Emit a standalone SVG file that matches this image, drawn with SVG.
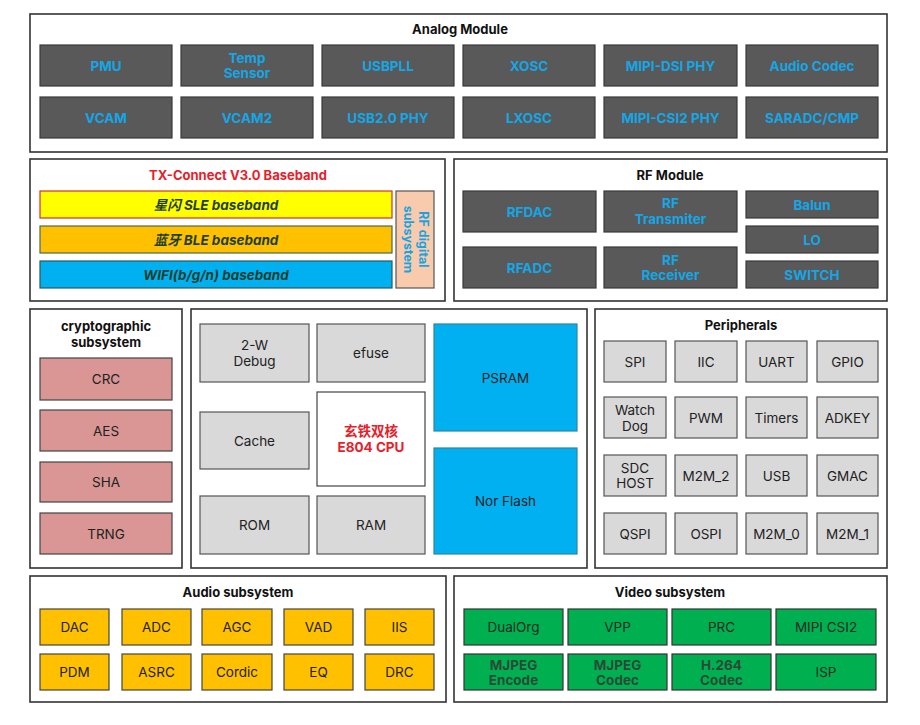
<svg xmlns="http://www.w3.org/2000/svg" width="920" height="725" viewBox="0 0 920 725">
<style>
text{font-family:Inter,"Liberation Sans","Noto Sans CJK SC",sans-serif;text-anchor:middle;dominant-baseline:central}
.outer{fill:#fff;stroke:#333;stroke-width:1.6}
.title{font-size:13px;font-weight:700;fill:#111}
.ana{fill:#595959;stroke:#3a3a3a;stroke-width:1.2}
.anat{font-size:13.5px;font-weight:700;fill:#14A6E6}
.gray{fill:#D9D9D9;stroke:#555;stroke-width:1.2}
.gt{font-size:13.5px;fill:#222}
.pink{fill:#D99694;stroke:#444;stroke-width:1.2}
.blue{fill:#00B0F0;stroke:#31859C;stroke-width:1.2}
.yel{fill:#FFC000;stroke:#444;stroke-width:1.2}
.grn{fill:#00B050;stroke:#333;stroke-width:1.2}
.gnt{font-size:13.5px;fill:#1d2b22}
.gnb{font-size:13.5px;font-weight:700;fill:#2a4a36}
.bb{font-size:13.5px;font-weight:700;font-style:italic;fill:#1f3f2e}
</style>

<g id="analog">
<rect class="outer" x="30" y="14" width="857" height="138"/>
<text class="title" x="460" y="29">Analog Module</text>
<rect class="ana" x="40" y="45" width="132" height="41"/><text class="anat" x="106" y="65.5">PMU</text>
<rect class="ana" x="181" y="45" width="132" height="41"/><text class="anat" x="247" y="57.5">Temp</text><text class="anat" x="247" y="73">Sensor</text>
<rect class="ana" x="322" y="45" width="132" height="41"/><text class="anat" x="388" y="65.5">USBPLL</text>
<rect class="ana" x="463" y="45" width="132" height="41"/><text class="anat" x="529" y="65.5">XOSC</text>
<rect class="ana" x="604" y="45" width="133" height="41"/><text class="anat" x="670.5" y="65.5">MIPI-DSI PHY</text>
<rect class="ana" x="746" y="45" width="132" height="41"/><text class="anat" x="812" y="65.5">Audio Codec</text>
<rect class="ana" x="40" y="97" width="132" height="41"/><text class="anat" x="106" y="117.5">VCAM</text>
<rect class="ana" x="181" y="97" width="132" height="41"/><text class="anat" x="247" y="117.5">VCAM2</text>
<rect class="ana" x="322" y="97" width="132" height="41"/><text class="anat" x="388" y="117.5">USB2.0 PHY</text>
<rect class="ana" x="463" y="97" width="132" height="41"/><text class="anat" x="529" y="117.5">LXOSC</text>
<rect class="ana" x="604" y="97" width="133" height="41"/><text class="anat" x="670.5" y="117.5">MIPI-CSI2 PHY</text>
<rect class="ana" x="746" y="97" width="132" height="41"/><text class="anat" x="812" y="117.5">SARADC/CMP</text>
</g>

<g id="txconnect">
<rect class="outer" x="30" y="159" width="415" height="142"/>
<text class="title" x="238" y="175" style="fill:#E8202A">TX-Connect V3.0 Baseband</text>
<rect x="40" y="191" width="352" height="27" style="fill:#FFFF00;stroke:#D03030;stroke-width:1.2"/>
<text class="bb" x="216" y="204.5">星闪 SLE baseband</text>
<rect x="40" y="226" width="352" height="27" style="fill:#FFC000;stroke:#4a6a4a;stroke-width:1.2"/>
<text class="bb" x="216" y="239.5">蓝牙 BLE baseband</text>
<rect x="40" y="261" width="352" height="27" style="fill:#00B0F0;stroke:#2a5a5a;stroke-width:1.2"/>
<text class="bb" x="216" y="274.5">WIFI(b/g/n) baseband</text>
<rect x="396" y="191" width="38" height="97" style="fill:#F8CBAD;stroke:#555;stroke-width:1.2"/>
<g transform="translate(415,239.5) rotate(90)">
<text x="0" y="-8" style="font-size:12.5px;font-weight:700;fill:#1AA3E0">RF digital</text>
<text x="0" y="7" style="font-size:12.5px;font-weight:700;fill:#1AA3E0">subsystem</text>
</g>
</g>

<g id="rf">
<rect class="outer" x="454" y="159" width="433" height="142"/>
<text class="title" x="670" y="175">RF Module</text>
<rect class="ana" x="463" y="191" width="133" height="41"/><text class="anat" x="529.5" y="211.5">RFDAC</text>
<rect class="ana" x="463" y="247" width="133" height="41"/><text class="anat" x="529.5" y="267.5">RFADC</text>
<rect class="ana" x="604" y="191" width="133" height="41"/><text class="anat" x="670.5" y="203">RF</text><text class="anat" x="670.5" y="218.5">Transmiter</text>
<rect class="ana" x="604" y="247" width="133" height="41"/><text class="anat" x="670.5" y="260">RF</text><text class="anat" x="670.5" y="275">Receiver</text>
<rect class="ana" x="746" y="191" width="132" height="27"/><text class="anat" x="812" y="204.5">Balun</text>
<rect class="ana" x="746" y="226" width="132" height="27"/><text class="anat" x="812" y="239.5">LO</text>
<rect class="ana" x="746" y="261" width="132" height="27"/><text class="anat" x="812" y="274.5">SWITCH</text>
</g>

<g id="crypto">
<rect class="outer" x="30" y="309" width="152" height="259"/>
<text class="title" x="106" y="326">cryptographic</text>
<text class="title" x="106" y="342">subsystem</text>
<rect class="pink" x="40" y="358" width="132" height="42"/><text class="gt" x="106" y="379">CRC</text>
<rect class="pink" x="40" y="410" width="132" height="41"/><text class="gt" x="106" y="430.5">AES</text>
<rect class="pink" x="40" y="462" width="132" height="40"/><text class="gt" x="106" y="482">SHA</text>
<rect class="pink" x="40" y="513" width="132" height="41"/><text class="gt" x="106" y="533.5">TRNG</text>
</g>

<g id="cpu">
<rect class="outer" x="191" y="309" width="396" height="259"/>
<rect class="gray" x="200" y="324" width="109" height="58"/><text class="gt" x="254.5" y="345">2-W</text><text class="gt" x="254.5" y="361">Debug</text>
<rect class="gray" x="317" y="324" width="108" height="58"/><text class="gt" x="371" y="353">efuse</text>
<rect class="blue" x="434" y="324" width="143" height="107"/><text class="gt" x="505.5" y="377.5">PSRAM</text>
<rect class="gray" x="200" y="412" width="109" height="57"/><text class="gt" x="254.5" y="440.5">Cache</text>
<rect x="317" y="392" width="108" height="94" style="fill:#fff;stroke:#444;stroke-width:1.2"/>
<text x="371" y="431" style="font-size:13.5px;font-weight:700;fill:#E8202A">玄铁双核</text>
<text x="371" y="447" style="font-size:13.5px;font-weight:700;fill:#E8202A">E804 CPU</text>
<rect class="blue" x="434" y="448" width="143" height="106"/><text class="gt" x="505.5" y="500.5">Nor Flash</text>
<rect class="gray" x="200" y="496" width="109" height="58"/><text class="gt" x="254.5" y="525">ROM</text>
<rect class="gray" x="317" y="496" width="108" height="58"/><text class="gt" x="371" y="525">RAM</text>
</g>

<g id="peripherals">
<rect class="outer" x="595" y="309" width="292" height="259"/>
<text class="title" x="741" y="325">Peripherals</text>
<rect class="gray" x="604" y="341" width="62" height="41"/><text class="gt" x="635" y="361.5">SPI</text>
<rect class="gray" x="675" y="341" width="62" height="41"/><text class="gt" x="706" y="361.5">IIC</text>
<rect class="gray" x="746" y="341" width="61" height="41"/><text class="gt" x="776.5" y="361.5">UART</text>
<rect class="gray" x="817" y="341" width="61" height="41"/><text class="gt" x="847.5" y="361.5">GPIO</text>
<rect class="gray" x="604" y="397" width="62" height="41"/><text class="gt" x="635" y="409.5">Watch</text><text class="gt" x="635" y="425.5">Dog</text>
<rect class="gray" x="675" y="397" width="62" height="41"/><text class="gt" x="706" y="417.5">PWM</text>
<rect class="gray" x="746" y="397" width="61" height="41"/><text class="gt" x="776.5" y="417.5">Timers</text>
<rect class="gray" x="817" y="397" width="61" height="41"/><text class="gt" x="847.5" y="417.5">ADKEY</text>
<rect class="gray" x="604" y="455" width="62" height="41"/><text class="gt" x="635" y="467.5">SDC</text><text class="gt" x="635" y="483">HOST</text>
<rect class="gray" x="675" y="455" width="62" height="41"/><text class="gt" x="706" y="475.5">M2M_2</text>
<rect class="gray" x="746" y="455" width="61" height="41"/><text class="gt" x="776.5" y="475.5">USB</text>
<rect class="gray" x="817" y="455" width="61" height="41"/><text class="gt" x="847.5" y="475.5">GMAC</text>
<rect class="gray" x="604" y="513" width="62" height="41"/><text class="gt" x="635" y="533.5">QSPI</text>
<rect class="gray" x="675" y="513" width="62" height="41"/><text class="gt" x="706" y="533.5">OSPI</text>
<rect class="gray" x="746" y="513" width="61" height="41"/><text class="gt" x="776.5" y="533.5">M2M_0</text>
<rect class="gray" x="817" y="513" width="61" height="41"/><text class="gt" x="847.5" y="533.5">M2M_1</text>
</g>

<g id="audio">
<rect class="outer" x="30" y="576" width="416" height="126"/>
<text class="title" x="238" y="592">Audio subsystem</text>
<rect class="yel" x="40" y="609" width="69" height="36"/><text class="gt" x="74.5" y="627">DAC</text>
<rect class="yel" x="122" y="609" width="69" height="36"/><text class="gt" x="156.5" y="627">ADC</text>
<rect class="yel" x="202" y="609" width="70" height="36"/><text class="gt" x="237" y="627">AGC</text>
<rect class="yel" x="284" y="609" width="69" height="36"/><text class="gt" x="318.5" y="627">VAD</text>
<rect class="yel" x="365" y="609" width="69" height="36"/><text class="gt" x="399.5" y="627">IIS</text>
<rect class="yel" x="40" y="654" width="69" height="36"/><text class="gt" x="74.5" y="672">PDM</text>
<rect class="yel" x="122" y="654" width="69" height="36"/><text class="gt" x="156.5" y="672">ASRC</text>
<rect class="yel" x="202" y="654" width="70" height="36"/><text class="gt" x="237" y="672">Cordic</text>
<rect class="yel" x="284" y="654" width="69" height="36"/><text class="gt" x="318.5" y="672">EQ</text>
<rect class="yel" x="365" y="654" width="69" height="36"/><text class="gt" x="399.5" y="672">DRC</text>
</g>

<g id="video">
<rect class="outer" x="454" y="576" width="433" height="126"/>
<text class="title" x="670" y="592">Video subsystem</text>
<rect class="grn" x="464" y="609" width="99" height="36"/><text class="gnt" x="513.5" y="627">DualOrg</text>
<rect class="grn" x="568" y="609" width="99" height="36"/><text class="gnt" x="617.5" y="627">VPP</text>
<rect class="grn" x="672" y="609" width="99" height="36"/><text class="gnt" x="721.5" y="627">PRC</text>
<rect class="grn" x="776" y="609" width="100" height="36"/><text class="gnt" x="826" y="627">MIPI CSI2</text>
<rect class="grn" x="464" y="654" width="99" height="36"/><text class="gnb" x="513.5" y="664.5">MJPEG</text><text class="gnb" x="513.5" y="680">Encode</text>
<rect class="grn" x="568" y="654" width="99" height="36"/><text class="gnb" x="617.5" y="664.5">MJPEG</text><text class="gnb" x="617.5" y="680">Codec</text>
<rect class="grn" x="672" y="654" width="99" height="36"/><text class="gnb" x="721.5" y="664.5">H.264</text><text class="gnb" x="721.5" y="680">Codec</text>
<rect class="grn" x="776" y="654" width="100" height="36"/><text class="gnt" x="826" y="672">ISP</text>
</g>

<g id="connectors"></g>
</svg>
